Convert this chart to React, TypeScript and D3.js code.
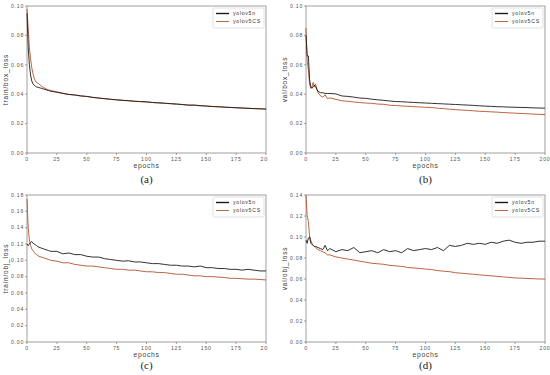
import React from 'react';
import * as d3 from 'd3';

// epochs sampled from the curves
const epochs = [0, 1, 2, 3, 4, 5, 6, 7, 8, 10, 12, 14, 16, 18, 20,
  25, 30, 35, 40, 45, 50, 55, 60, 65, 70, 75, 80, 85, 90, 95, 100,
  105, 110, 115, 120, 125, 130, 135, 140, 145, 150, 155, 160, 165, 170, 175, 180, 185, 190, 195, 200];

const trainBoxN = [0.095, 0.072, 0.06, 0.053, 0.049, 0.047, 0.046, 0.0455, 0.045, 0.0445, 0.044, 0.0435, 0.043, 0.0425, 0.042,
  0.0413, 0.0405, 0.0398, 0.0395, 0.0388, 0.0385, 0.0378, 0.0374, 0.037, 0.0365, 0.0362, 0.0358, 0.0356, 0.0352, 0.035, 0.0348,
  0.0344, 0.0341, 0.0339, 0.0336, 0.0333, 0.033, 0.0325, 0.0326, 0.0322, 0.032, 0.0316, 0.0315, 0.0312, 0.031, 0.0308, 0.0306, 0.0304, 0.0302, 0.0301, 0.0299];
const trainBoxCS = [0.098, 0.085, 0.072, 0.064, 0.058, 0.054, 0.051, 0.049, 0.048, 0.047, 0.0455, 0.0445, 0.0435, 0.043, 0.0425,
  0.0416, 0.0407, 0.0399, 0.0394, 0.0389, 0.0384, 0.0379, 0.0373, 0.0369, 0.0366, 0.0361, 0.0359, 0.0355, 0.0352, 0.0349, 0.0347,
  0.0343, 0.0341, 0.0338, 0.0335, 0.0333, 0.0329, 0.0327, 0.0325, 0.0321, 0.0319, 0.0317, 0.0314, 0.0312, 0.031, 0.0308, 0.0306, 0.0304, 0.0302, 0.03, 0.0299];

const valBoxN = [0.08, 0.066, 0.066, 0.05, 0.045, 0.044, 0.045, 0.046, 0.045, 0.042, 0.041, 0.041, 0.0405, 0.0405, 0.0405,
  0.0402, 0.0388, 0.0385, 0.038, 0.0374, 0.0372, 0.0366, 0.0362, 0.0358, 0.0354, 0.035, 0.0349, 0.0346, 0.0344, 0.0342, 0.034,
  0.0338, 0.0336, 0.0334, 0.0332, 0.033, 0.0328, 0.0326, 0.0324, 0.0321, 0.0319, 0.0317, 0.0315, 0.0314, 0.0312, 0.0311, 0.031, 0.0309, 0.0307, 0.0306, 0.0305];
const valBoxCS = [0.085, 0.062, 0.057, 0.047, 0.044, 0.045, 0.048, 0.045, 0.047, 0.041, 0.039, 0.038, 0.0395, 0.037, 0.0375,
  0.0365, 0.0355, 0.0352, 0.0347, 0.0343, 0.034, 0.0338, 0.0333, 0.0331, 0.0325, 0.0323, 0.032, 0.0318, 0.0315, 0.0313, 0.0311,
  0.0309, 0.0305, 0.0302, 0.0298, 0.0295, 0.0292, 0.029, 0.0287, 0.0284, 0.0282, 0.028, 0.0278, 0.0275, 0.0273, 0.0271, 0.0269, 0.0267, 0.0265, 0.0263, 0.0261];

const trainObjN = [0.12, 0.118, 0.12, 0.122, 0.123, 0.121, 0.12, 0.119, 0.118, 0.116, 0.115, 0.114, 0.113, 0.112, 0.111,
  0.111, 0.108, 0.109, 0.107, 0.107, 0.105, 0.104, 0.104, 0.102, 0.101, 0.1, 0.099, 0.0995, 0.098, 0.098, 0.097,
  0.096, 0.096, 0.095, 0.094, 0.094, 0.093, 0.093, 0.092, 0.093, 0.091, 0.091, 0.09, 0.09, 0.089, 0.089, 0.088, 0.089, 0.088, 0.087, 0.087];
const trainObjCS = [0.175, 0.14, 0.125, 0.118, 0.114, 0.112, 0.11, 0.108, 0.107, 0.105, 0.104, 0.103, 0.102, 0.101, 0.1,
  0.099, 0.097, 0.097, 0.095, 0.094, 0.093, 0.093, 0.092, 0.091, 0.09, 0.089, 0.089, 0.088, 0.088, 0.087, 0.086,
  0.086, 0.085, 0.085, 0.084, 0.083, 0.083, 0.082, 0.081, 0.081, 0.08, 0.08, 0.0795, 0.079, 0.078, 0.078, 0.0775, 0.077, 0.077, 0.0765, 0.076];

const valObjN = [0.097, 0.094, 0.099, 0.1, 0.094, 0.093, 0.092, 0.091, 0.091, 0.09, 0.089, 0.088, 0.092, 0.087, 0.089,
  0.086, 0.088, 0.087, 0.09, 0.085, 0.086, 0.087, 0.085, 0.088, 0.086, 0.087, 0.085, 0.089, 0.087, 0.088, 0.089,
  0.088, 0.09, 0.087, 0.092, 0.091, 0.092, 0.094, 0.093, 0.094, 0.093, 0.095, 0.094, 0.096, 0.097, 0.095, 0.094, 0.095, 0.095, 0.096, 0.096];
const valObjCS = [0.14, 0.12, 0.115, 0.101, 0.097, 0.094, 0.092, 0.091, 0.09, 0.088, 0.087, 0.086, 0.085, 0.083, 0.083,
  0.081, 0.08, 0.079, 0.078, 0.077, 0.076, 0.075, 0.0745, 0.074, 0.073, 0.0725, 0.072, 0.071, 0.0705, 0.07, 0.0695,
  0.069, 0.068, 0.0675, 0.067, 0.066, 0.0655, 0.065, 0.0645, 0.064, 0.0635, 0.063, 0.0625, 0.062, 0.0615, 0.061, 0.0608, 0.0605, 0.0603, 0.06, 0.06];

const xTicks = [0, 25, 50, 75, 100, 125, 150, 175, 200];
const seriesNames = ['yolov5n', 'yolov5CS'];
const seriesColors = ['#1a1a1a', '#b3522c'];

const panels = [
  { label: '(a)', yLabel: 'train/box_loss', yMax: 0.1, yTicks: [0, 0.02, 0.04, 0.06, 0.08, 0.1], n: trainBoxN, cs: trainBoxCS, left: 27, top: 6, clip: true },
  { label: '(b)', yLabel: 'val/box_loss', yMax: 0.1, yTicks: [0, 0.02, 0.04, 0.06, 0.08, 0.1], n: valBoxN, cs: valBoxCS, left: 306, top: 6, clip: false },
  { label: '(c)', yLabel: 'train/obj_loss', yMax: 0.18, yTicks: [0, 0.02, 0.04, 0.06, 0.08, 0.1, 0.12, 0.14, 0.16, 0.18], n: trainObjN, cs: trainObjCS, left: 27, top: 195, clip: true },
  { label: '(d)', yLabel: 'val/obj_loss', yMax: 0.14, yTicks: [0, 0.02, 0.04, 0.06, 0.08, 0.1, 0.12, 0.14], n: valObjN, cs: valObjCS, left: 306, top: 195, clip: false },
];

const W = 239;
const H = 147;
const tickFont = { fontFamily: 'Liberation Sans', fontSize: 5.2, letterSpacing: 0.7, fill: '#555' };

function Panel({ p, idx }) {
  const x = d3.scaleLinear().domain([0, 200]).range([p.left, p.left + W]);
  const y = d3.scaleLinear().domain([0, p.yMax]).range([p.top + H, p.top]);
  const line = d3.line<number>().x((_, i) => x(epochs[i])).y(d => y(d));
  const cx = p.left + W / 2;
  const lgX = p.left + W - 53;
  const lgY = p.top + 2;
  return (
    <g>
      <rect x={p.left} y={p.top} width={W} height={H} fill="none" stroke="#888" strokeWidth={0.8} />
      {p.yTicks.map(t => (
        <g key={t}>
          <line x1={p.left - 2} x2={p.left} y1={y(t)} y2={y(t)} stroke="#666" strokeWidth={0.6} />
          <text x={p.left - 3} y={y(t)} dy="0.35em" textAnchor="end" {...tickFont}>{t.toFixed(2)}</text>
        </g>
      ))}
      <g clipPath={p.clip ? 'url(#leftclip)' : undefined}>
        {xTicks.map(t => (
          <g key={t}>
            <line x1={x(t)} x2={x(t)} y1={p.top + H} y2={p.top + H + 2} stroke="#666" strokeWidth={0.6} />
            <text x={x(t)} y={p.top + H + 7.5} textAnchor="middle" {...tickFont}>{t}</text>
          </g>
        ))}
      </g>
      <text x={cx} y={p.top + H + 15} textAnchor="middle" fontFamily="Liberation Sans" fontSize={6.8} letterSpacing={0.7} fill="#444">epochs</text>
      <text transform={`translate(${p.left - 19},${p.top + H / 2}) rotate(-90)`} textAnchor="middle" fontFamily="Liberation Sans" fontSize={6.5} letterSpacing={0.8} fill="#333">{p.yLabel}</text>
      <path d={line(p.cs) || ''} fill="none" stroke={seriesColors[1]} strokeWidth={0.9} />
      <path d={line(p.n) || ''} fill="none" stroke={seriesColors[0]} strokeWidth={0.9} />
      <rect x={lgX} y={lgY} width={51} height={20} fill="#fff" stroke="#ccc" strokeWidth={0.6} rx={1.5} />
      {seriesNames.map((s, i) => (
        <g key={s}>
          <line x1={lgX + 3} x2={lgX + 16} y1={lgY + 5.5 + i * 8} y2={lgY + 5.5 + i * 8} stroke={seriesColors[i]} strokeWidth={i === 0 ? 1.4 : 0.9} />
          <text x={lgX + 20} y={lgY + 5.5 + i * 8} dy="0.35em" {...tickFont} fill="#333">{s}</text>
        </g>
      ))}
      <text x={cx} y={p.top + H + (idx < 2 ? 30 : 27)} textAnchor="middle" fontFamily="Liberation Serif" fontSize={11} fill="#222">{p.label}</text>
    </g>
  );
}

export default function App() {
  return (
    <svg width={550} height={375} style={{ position: 'absolute', left: 0, top: 0, background: '#fff' }}>
      <defs>
        <clipPath id="leftclip">
          <rect x={0} y={0} width={268} height={375} />
        </clipPath>
      </defs>
      {panels.map((p, i) => <Panel key={p.label} p={p} idx={i} />)}
    </svg>
  );
}
